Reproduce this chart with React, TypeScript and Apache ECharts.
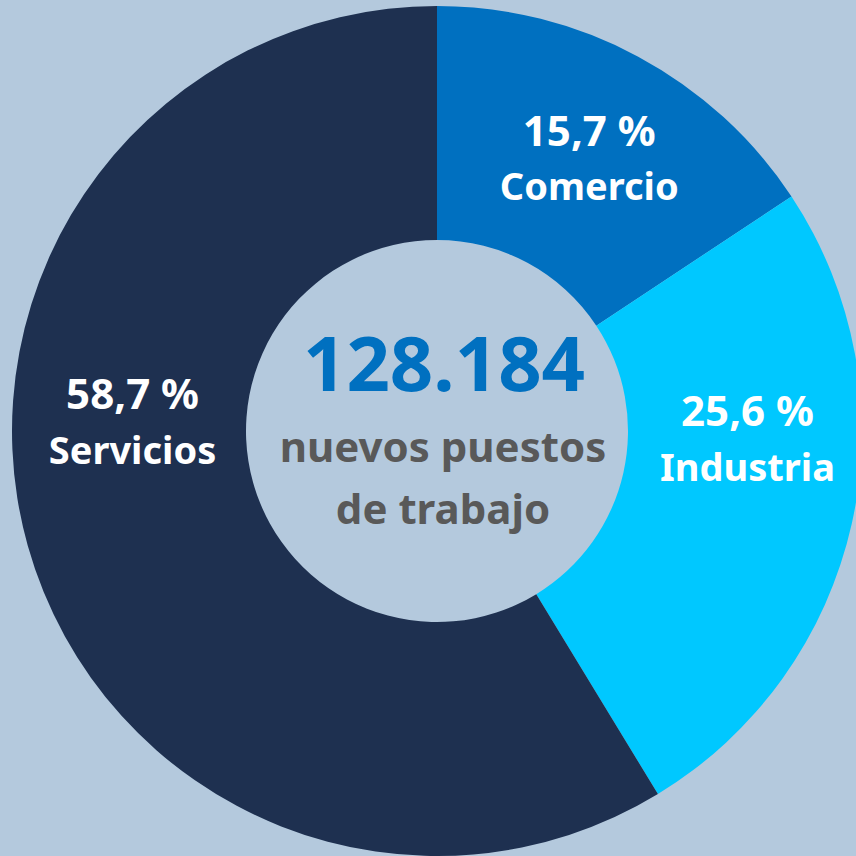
import React, { useEffect, useRef } from "react";
import * as echarts from "echarts";

const categories = ["Comercio", "Industria", "Servicios"];
const shares = [15.7, 25.6, 58.7];
const sliceColors = ["#0070C0", "#00C8FF", "#1E3050"];
const labelOffsets: [number, number][] = [[5, 0], [7, -61], [-5, -94]];
const totalLabel = "128.184";
const subtitleLines = ["nuevos puestos", "de trabajo"];

const FONT = "'Noto Sans', 'Open Sans', sans-serif";

export default function App() {
  const ref = useRef<HTMLDivElement>(null);
  useEffect(() => {
    if (!ref.current) return;
    const chart = echarts.init(ref.current, undefined, { renderer: "svg" });
    chart.setOption({
      animation: false,
      backgroundColor: "#B4C9DD",
      series: [
        {
          type: "pie",
          center: [437, 431],
          radius: [191, 425],
          startAngle: 90,
          clockwise: true,
          silent: true,
          label: {
            show: true,
            position: "inside",
            color: "#FFFFFF",
            fontFamily: FONT,
            fontWeight: "bold",
            fontSize: 40,
            lineHeight: 56,
            align: "center",
            formatter: (p: any) =>
              `{p|${Number(p.value).toFixed(1).replace(".", ",")} %}\n{n|${p.name}}`,
            rich: {
              p: {
                color: "#FFFFFF",
                fontFamily: FONT,
                fontWeight: "bold",
                fontSize: 42,
                lineHeight: 56,
                align: "center",
              },
              n: {
                color: "#FFFFFF",
                fontFamily: FONT,
                fontWeight: "bold",
                fontSize: 38,
                lineHeight: 56,
                align: "center",
              },
            },
          },
          labelLine: { show: false },
          itemStyle: { borderWidth: 0 },
          data: categories.map((c, i) => ({
            name: c,
            value: shares[i],
            itemStyle: { color: sliceColors[i] },
            label: { offset: labelOffsets[i] },
          })),
        },
      ],
      graphic: [
        {
          type: "text",
          x: 444,
          y: 399,
          style: {
            text: totalLabel,
            fill: "#0070C0",
            font: `bold 76px ${FONT}`,
            textAlign: "center",
            textVerticalAlign: "bottom",
          },
        },
        ...subtitleLines.map((t, i) => ({
          type: "text",
          x: 443,
          y: 466 + i * 62,
          style: {
            text: t,
            fill: "#595959",
            font: `bold 42px ${FONT}`,
            textAlign: "center",
            textVerticalAlign: "bottom",
          },
        })),
      ],
    });
    return () => chart.dispose();
  }, []);
  return (
    <div
      ref={ref}
      style={{ position: "fixed", left: 0, top: 0, width: 856, height: 856 }}
    />
  );
}
